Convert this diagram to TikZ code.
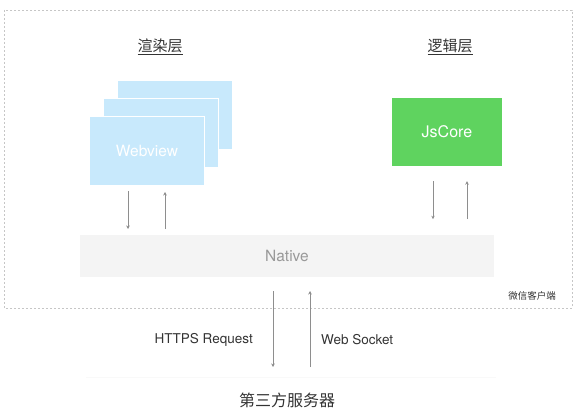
\documentclass[tikz,border=0pt]{standalone}
\usepackage{fontspec}
\setmainfont{TeX Gyre Heros}
\newfontfamily\cjk{Noto Sans CJK SC}
\usetikzlibrary{calc,arrows.meta}
\definecolor{webblue}{HTML}{C8E9FC}
\definecolor{jsgreen}{HTML}{5FD35F}
\definecolor{nativegray}{HTML}{F4F4F4}
\definecolor{arrowgray}{HTML}{8E8E8E}
\definecolor{textgray}{HTML}{333333}
\def\drawlink{\draw[color=arrowgray, line width=0.8pt, -{Stealth[length=3.5pt,width=3.5pt]}]}
\def\cardnode{\node[draw=white,line width=1.5pt,fill=webblue,minimum width=115pt,minimum height=69pt,inner sep=0pt]}

\begin{document}
\begin{tikzpicture}[x=1pt,y=-1pt,inner sep=1pt]
\useasboundingbox (0,0) rectangle (584,420);

% client frame
\draw[color=gray!45, line width=0.6pt, dash pattern=on 2pt off 2pt] (4,10) rectangle (572,308);
\node[font=\cjk\fontsize{9.5}{11}\selectfont, text=textgray] (client_label) at (532,296) {微信客户端};

% -------- titles --------
\node[font=\cjk\fontsize{15}{17}\selectfont, text=textgray] (render_title) at (160,47) {\underline{渲染层}};
\node[font=\cjk\fontsize{15}{17}\selectfont, text=textgray] (logic_title) at (450,47) {\underline{逻辑层}};

% -------- webview stack (back to front) --------
\coordinate (front_c) at (147,151);
\cardnode (back_card) at ($ (front_c) + (28,-36) $) {};
\cardnode (mid_card) at ($ (front_c) + (14,-18) $) {};
\cardnode[font=\fontsize{15.5}{17}\selectfont, text=white] (front_card) at (front_c) {Webview};

% -------- jscore --------
\node[fill=jsgreen, minimum width=110pt, minimum height=68pt, font=\fontsize{16}{18}\selectfont, text=white] (jscore) at (447,132) {JsCore};

% -------- native --------
\node[fill=nativegray, minimum width=414pt, minimum height=42pt, font=\fontsize{15.5}{17}\selectfont, text=gray!80] (native) at (287,256) {Native};

% arrows between webview and native
\coordinate (wv_down_top) at (128,191);
\coordinate (wv_down_bot) at (128,229);
\coordinate (wv_up_bot) at (165,229);
\coordinate (wv_up_top) at (165,192);
\drawlink (wv_down_top) to (wv_down_bot);
\drawlink (wv_up_bot) to (wv_up_top);

% arrows between jscore and native
\coordinate (js_down_top) at ($ (jscore.south) + (-14,15) $);
\coordinate (js_down_bot) at ($ (js_down_top) + (0,38) $);
\coordinate (js_up_bot) at ($ (js_down_bot) + (34,0) $);
\coordinate (js_up_top) at ($ (js_down_top) + (34,0) $);
\drawlink (js_down_top) to (js_down_bot);
\drawlink (js_up_bot) to (js_up_top);

% -------- server side --------
\coordinate (srv_down_top) at (273,291);
\coordinate (srv_down_bot) at (273,367);
\coordinate (srv_up_bot) at (310,367);
\coordinate (srv_up_top) at (310,291);
\drawlink (srv_down_top) to (srv_down_bot);
\drawlink (srv_up_bot) to (srv_up_top);
\node[font=\fontsize{13.5}{15}\selectfont, text=textgray, anchor=east] (https_label) at (254,340) {HTTPS Request};
\node[font=\fontsize{13.5}{15}\selectfont, text=textgray, anchor=west] (ws_label) at (320,340) {Web Socket};

\draw[color=gray!5, line width=0.6pt] (86,377) -- (496,377);
\node[font=\cjk\fontsize{16}{18}\selectfont, text=textgray] (server) at (287,400) {第三方服务器};
\end{tikzpicture}
\end{document}
